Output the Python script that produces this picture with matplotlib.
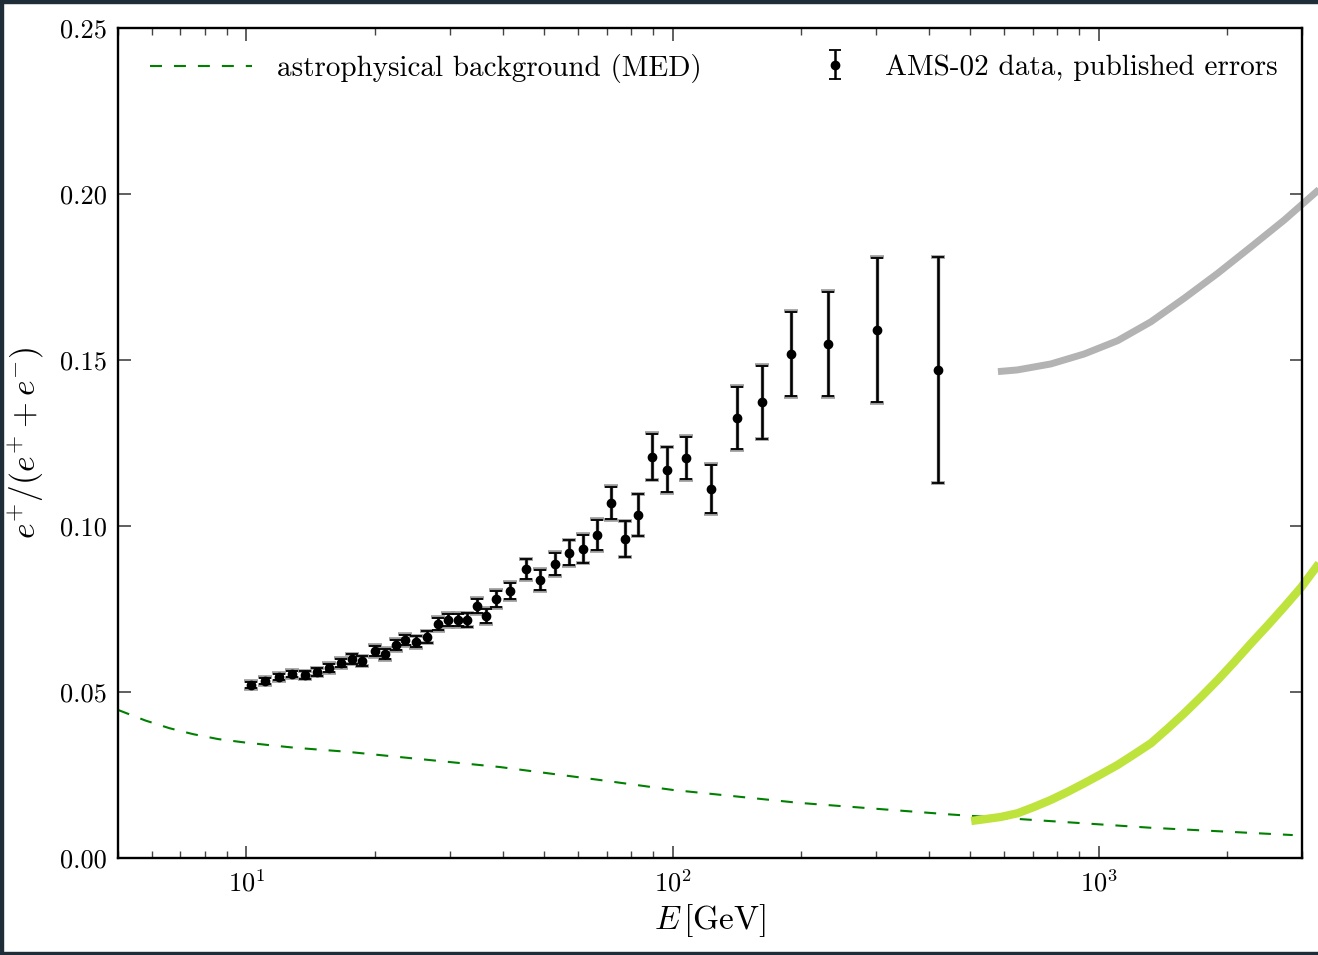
import matplotlib
matplotlib.use('Agg')
import matplotlib.pyplot as plt

plt.rcParams['font.family'] = 'serif'
plt.rcParams['font.serif'] = ['cmr10']
plt.rcParams['mathtext.fontset'] = 'cm'
plt.rcParams['axes.formatter.use_mathtext'] = True
plt.rcParams['axes.unicode_minus'] = False

# AMS-02 positron fraction
ams_E = [10.27, 11.08, 11.95, 12.83, 13.76, 14.68, 15.67, 16.7, 17.7, 18.73,
         20.0, 21.1, 22.4, 23.6, 25.0, 26.5, 28.1, 29.7, 31.3, 32.9,
         34.7, 36.6, 38.6, 41.6, 45.2, 48.9, 53.0, 57.1, 61.6, 66.5,
         71.7, 77.5, 83.1, 89.6, 96.8, 107.7, 123.1, 141.5, 162.0, 189.7,
         232.2, 302.3, 419.9]
ams_frac = [0.0521, 0.0533, 0.0545, 0.0554, 0.0551, 0.0560, 0.0572, 0.0587, 0.0599, 0.0593,
            0.0623, 0.0614, 0.0642, 0.0657, 0.0651, 0.0666, 0.0705, 0.0717, 0.0717, 0.0717,
            0.0759, 0.0729, 0.0780, 0.0804, 0.0870, 0.0837, 0.0886, 0.0919, 0.0931, 0.0973,
            0.1069, 0.0961, 0.1033, 0.1208, 0.1169, 0.1205, 0.1111, 0.1325, 0.1373, 0.1518,
            0.1548, 0.1590, 0.1470]
ams_err = [0.0009, 0.0009, 0.0010, 0.0010, 0.0011, 0.0011, 0.0012, 0.0013, 0.0014, 0.0014,
           0.0015, 0.0015, 0.0016, 0.0016, 0.0017, 0.0017, 0.0018, 0.0019, 0.0019, 0.0020,
           0.0022, 0.0022, 0.0024, 0.0025, 0.0030, 0.0030, 0.0034, 0.0038, 0.0042, 0.0045,
           0.0049, 0.0053, 0.0062, 0.0069, 0.0068, 0.0064, 0.0073, 0.0094, 0.0110, 0.0127,
           0.0156, 0.0218, 0.0340]
ams_err_gray = [0.0011, 0.0011, 0.0012, 0.0012, 0.0013, 0.0013, 0.0014, 0.0015, 0.0016, 0.0016,
                0.0017, 0.0017, 0.0018, 0.0018, 0.0019, 0.0019, 0.0021, 0.0021, 0.0021, 0.0022,
                0.0024, 0.0024, 0.0026, 0.0027, 0.0032, 0.0032, 0.0036, 0.0040, 0.0044, 0.0047,
                0.0051, 0.0055, 0.0064, 0.0071, 0.0070, 0.0066, 0.0075, 0.0096, 0.0112, 0.0130,
                0.0159, 0.0220, 0.0340]

# astrophysical background (MED)
bg_E = [5, 5.8, 6.6, 7.5, 8.6, 9.9, 11.3, 13, 17.2, 22.9, 39.3, 67.4, 100,
        198, 449, 771, 1324, 2851]
bg_frac = [0.0446, 0.0414, 0.0391, 0.0373, 0.0358, 0.0348, 0.0340, 0.0332, 0.0320,
           0.0304, 0.0274, 0.0235, 0.0205, 0.0166, 0.0131, 0.0111, 0.0091, 0.0069]

# high energy model curves
gray_E = [580, 644, 771.5, 923.9, 1106.5, 1325, 1586.6, 1900.5, 2276.5, 2726, 3289]
gray_frac = [0.1465, 0.1470, 0.1488, 0.1518, 0.1558, 0.1615, 0.1686, 0.1761, 0.1841,
             0.1922, 0.2014]
lime_E = [502, 537.6, 588.6, 644.1, 704.7, 771.5, 844.1, 923.9, 1011, 1106.5, 1210.6,
          1325, 1450, 1586.6, 1736.5, 1900.5, 2080, 2276.5, 2491, 2726, 2983, 3289]
lime_frac = [0.01114, 0.01165, 0.01235, 0.01345, 0.01536, 0.01747, 0.01988, 0.02249,
             0.02520, 0.02801, 0.03123, 0.03454, 0.03896, 0.04357, 0.04849, 0.05361,
             0.05904, 0.06466, 0.07008, 0.0757, 0.0815, 0.0888]

fig = plt.figure(figsize=(13.18, 9.55), dpi=100)
ax = fig.add_axes([0.0895, 0.1016, 0.8985, 0.8691])

bg_line, = ax.plot(bg_E, bg_frac, color='green', lw=1.5, dashes=(5.75, 5.75),
                   label='astrophysical background (MED)')
ax.plot(gray_E, gray_frac, color='#b3b3b3', lw=5, solid_capstyle='butt', clip_on=False)
ax.plot(lime_E, lime_frac, color='#bde33c', lw=6, solid_capstyle='butt', clip_on=False)

ax.errorbar(ams_E, ams_frac, yerr=ams_err_gray, fmt='none', ecolor='#999999',
            elinewidth=2.5, capsize=5.2, capthick=2.6)
eb = ax.errorbar(ams_E, ams_frac, yerr=ams_err, fmt='o', color='black', ms=6,
                 elinewidth=1.8, capsize=4.3, capthick=1.3,
                 label='AMS-02 data, published errors')

ax.set_xscale('log')
ax.set_xlim(5, 3000)
ax.set_ylim(0, 0.25)
ax.set_yticks([0.0, 0.05, 0.10, 0.15, 0.20, 0.25])
ax.set_yticklabels(['0.00', '0.05', '0.10', '0.15', '0.20', '0.25'])

ax.tick_params(which='both', direction='in', top=True, right=True,
               labelsize=19, color='#444444', pad=8)
ax.tick_params(which='major', length=9, width=1.2)
ax.tick_params(which='minor', length=5, width=1)
for s in ax.spines.values():
    s.set_linewidth(1.7)

ax.set_xlabel(r'$E\,[\mathrm{GeV}]$', fontsize=24, labelpad=4)
ax.set_ylabel(r'$e^{+}/(e^{+}+e^{-})$', fontsize=24, labelpad=10)

leg1 = ax.legend(handles=[bg_line], loc='upper left', frameon=False, fontsize=21,
                 handlelength=3.5, handletextpad=0.85, borderaxespad=0.7,
                 bbox_to_anchor=(0.0, 1.007))
ax.add_artist(leg1)
ax.legend(handles=[eb], loc='upper right', frameon=False, fontsize=21,
          handlelength=1.0, handletextpad=1.2, borderaxespad=0.45,
          bbox_to_anchor=(1.0, 0.998))

# dark frame of the screenshot
dark = '#1e2d38'
fig.add_artist(plt.Rectangle((0, 0), 1, 0.003, transform=fig.transFigure, color=dark))
fig.add_artist(plt.Rectangle((0, 0.997), 1, 0.003, transform=fig.transFigure, color=dark))
fig.add_artist(plt.Rectangle((0, 0), 0.002, 1, transform=fig.transFigure, color=dark))

fig.savefig('out.png', dpi=100)
